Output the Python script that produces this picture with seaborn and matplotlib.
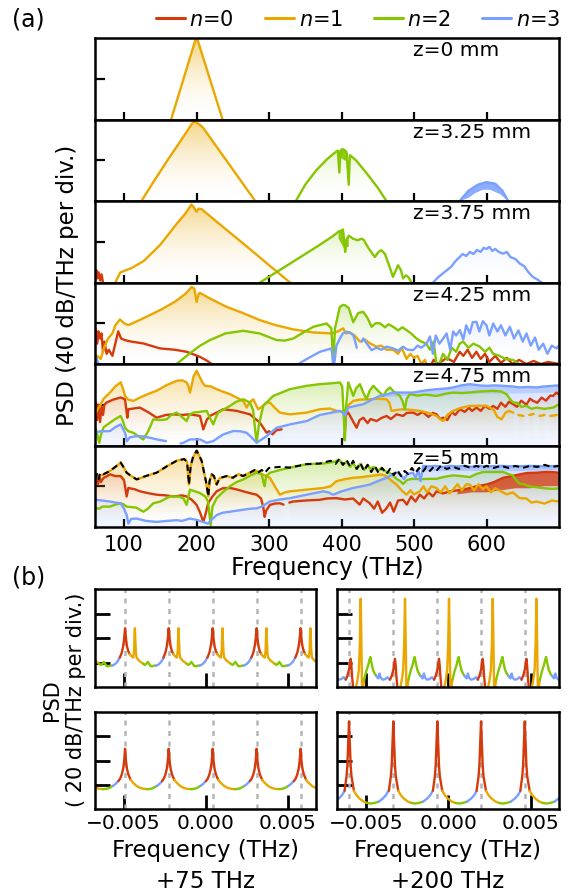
import numpy as np
import matplotlib
matplotlib.use("Agg")
import matplotlib.pyplot as plt
import seaborn as sns
from matplotlib.lines import Line2D
from matplotlib.colors import to_rgb

# ---------------------------------------------------------------- data (a)
z_labels = ["z=0 mm", "z=3.25 mm", "z=3.75 mm", "z=4.25 mm", "z=4.75 mm", "z=5 mm"]
mode_labels = ["$n$=0", "$n$=1", "$n$=2", "$n$=3"]
freq_ticks = [100, 200, 300, 400, 500, 600]

# z = 0 mm
z000_n1 = [(160, -95), (165, -80), (198, -3), (200, 0), (202, -3), (236, -80), (240, -90)]

# z = 3.25 mm
z325_n1 = [(118, -88), (124, -80), (140, -62), (160, -40), (180, -19), (192, -6), (196, -2), (199, -2.5),
           (202, -4), (206, -6), (209, -8), (215, -14), (230, -29), (250, -49), (265, -64), (280, -79), (285, -86)]
z325_n2 = [(330, -88), (337, -80), (350, -64), (365, -50), (380, -39), (390, -33), (395, -30.5), (397, -52),
           (398.5, -31), (401, -29), (404, -30), (407, -32), (410, -64), (411.5, -35), (420, -40), (435, -53),
           (450, -67), (462, -80), (468, -88)]
z325_n3 = [(558, -88), (563, -80), (575, -70), (588, -64), (600, -61.5), (612, -63), (622, -70), (630, -80), (634, -88)]

# z = 3.75 mm
z375_n0 = [(60, -72), (62, -68), (63, -76), (65, -70), (67, -78), (69, -72), (71, -80), (74, -82)]
z375_n1 = [(85, -88), (88, -80), (95, -70), (99, -69), (110, -66), (127, -59), (150, -43), (172, -23),
           (185, -12), (193, -3.5), (196, -6), (200, -10.5), (203, -7.5), (207, -8), (240, -27.5), (270, -45),
           (300, -63), (329, -80), (335, -86)]
z375_n2 = [(282, -84), (287.5, -80), (330, -61), (370, -43), (388, -34.5), (396, -30), (400, -29), (402, -28),
           (404, -40), (405, -50), (407, -38), (410, -34), (416, -37), (422, -38.5), (428, -37), (431, -38.5),
           (437, -46), (446, -55), (451, -50), (455, -48.3), (460, -52), (466, -64), (471, -74.5), (475, -68),
           (478, -63), (482, -68), (485, -76), (489, -73), (492, -74.5), (496.6, -80), (499, -85)]
z375_n3 = [(522, -86), (526.5, -80), (533, -75), (540, -71), (547, -67), (552, -64), (556, -60), (560, -57),
           (563, -55), (567, -52), (572, -54), (577, -50), (582, -52), (587, -48), (592, -50), (596, -46),
           (600, -47), (604, -45), (608, -49), (612, -47), (617, -50), (623, -51.7), (628, -50), (633, -55),
           (640, -57), (646, -61.5), (652, -64), (658, -70), (664, -74.6), (670, -77), (676, -80), (680, -86)]

# z = 4.25 mm
z425_n0 = [(60, -45), (61.6, -47), (63, -60), (65, -48), (67, -55), (69, -50), (71, -68), (73, -58), (76, -70),
           (79, -66), (84, -72), (88, -60), (92, -48), (96, -55), (101, -56.5), (110, -58), (126.6, -59.8),
           (149.6, -64.7), (170, -66), (186.4, -68), (204.8, -73), (215, -77), (221, -80), (226, -86), None,
           (520, -86), (527, -76), (533, -80), (545, -74), (555, -78), (563, -68), (568, -72), (574, -66),
           (580, -74), (586, -68), (592, -75), (598, -70), (604, -78), (612, -72), (620, -79), (628, -74),
           (636, -80), (645, -76), (655, -80), (665, -77), (675, -80), (685, -78), (700, -80)]
z425_n1 = [(60, -80), (63, -72), (68, -75), (72, -65), (78, -55), (84, -50), (88, -42), (94.5, -36.3),
           (100, -40), (106, -41.8), (115, -39), (130, -34), (150, -27), (170, -19), (185, -11), (193.3, -4.3),
           (197, -6), (200.2, -19), (203, -11), (204.8, -10.2), (218.6, -15.7), (241.5, -23.9), (264, -30),
           (287.5, -37), (310, -42), (333.4, -46), (361, -49), (386.3, -50), (395, -48), (402.4, -45),
           (406, -50), (411.6, -49), (418, -52), (425.4, -58), (432, -56), (440, -60), (448.4, -63), (455, -62),
           (462, -66), (471.3, -66), (478, -70), (483, -64), (489.7, -75), (495, -70), (500, -74), (505, -72),
           (510, -80), (515, -76), (520, -86)]
z425_n2 = [(165, -86), (172.6, -80), (190, -70), (205, -62), (218.6, -56.5), (240, -50), (264.5, -47.4),
           (287, -50), (310.4, -56.5), (322, -57), (333.4, -55), (350, -48), (361, -43.5), (379.4, -40.2),
           (386, -45), (388.5, -79), (391, -45), (397.7, -24), (402, -22), (404.7, -22.3), (410, -25),
           (416.2, -39), (423, -30), (430, -28.8), (436, -35), (441.5, -43.5), (447, -40), (453, -40), (460, -44),
           (465, -41), (471.3, -43.5), (478, -47), (484, -44), (489.7, -46.7), (496, -50), (503.5, -55),
           (510, -58), (517, -60), (522, -66), (527, -58), (531, -80), (535, -80), (540, -70), (546, -76),
           (552, -64), (558, -68), (563, -60), (567.8, -58), (575, -64), (582, -60), (590.8, -63), (598, -68),
           (604, -64), (609.2, -70), (618, -72), (626, -75), (636.8, -76), (645, -80), (650, -86)]
z425_n3 = [(60, -78), (62, -74), (65, -80), (68, -86), None,
           (336, -86), (342.6, -79), (355, -74), (370.2, -68), (380, -66), (386.3, -64.7), (388.5, -80),
           (390, -80), (393, -62), (397.7, -55), (402, -50), (406.9, -48.4), (411, -49), (416.2, -51.7),
           (419, -58), (421, -64), None,
           (428, -58), (430, -55), (435, -60), (441.5, -66.4), (448, -64), (455, -66), (462, -63),
           (471.3, -64.7), (478, -67), (485, -63), (491, -66), (498.9, -66.4), (505, -62), (510, -64),
           (517.3, -60), (522, -53), (526, -70), (530, -52), (535, -60), (540.3, -55), (545, -50), (550, -66),
           (554, -48), (558, -52), (563.3, -46.7), (568, -56), (572, -42), (577, -50), (581, -39),
           (586.2, -38.6), (590, -48), (595, -38), (600, -42), (604, -52), (609.2, -40.2), (615, -48),
           (620, -42), (626, -52), (632.2, -43.5), (638, -55), (644, -47), (650, -58), (655.2, -50), (661, -62),
           (667, -54), (672, -66), (678.2, -60), (684, -70), (690, -62), (696.6, -64.7), (700, -62)]

# z = 4.75 mm
z475_n0 = [(60, -38), (61.4, -37.8), (63, -55), (65, -40), (67, -57), (69, -42), (71, -50), (73, -40),
           (76.1, -37.8), (85, -35), (95.4, -32.9), (101.4, -34.6), (104.6, -52.7), (106, -44.4), (122, -42.8),
           (135, -48), (145, -52.7), (158, -50), (168, -49.4), (180, -50), (191, -49.4), (204.8, -51),
           (209.4, -64.2), (214, -55), (218.6, -51), (236.9, -44.4), (255.4, -46), (273.7, -49.4),
           (287.5, -57.6), (296.7, -67.5), (300, -66), (305, -69), (310, -65), (317.4, -64.2), None,
           (404, -74), (406, -50), (409.3, -47.7), (415, -55), (420.8, -62.6), (425, -55), (430, -52.7),
           (436, -58), (440, -54), (448.4, -56), (455, -53), (462.2, -51), (468, -54), (476, -49.4), (485, -51),
           (490, -48), (498.9, -47.7), (505, -50), (512, -47), (520, -52), (526, -48), (531.1, -49.4),
           (536, -54), (540.3, -52.7), (546, -55), (552, -47), (557, -50), (563.2, -44.4), (570, -47),
           (576, -43), (580, -46), (586.3, -42.8), (592, -46), (598, -41), (604, -44), (609.2, -41.1),
           (615, -44), (620, -38), (626, -42), (631, -37), (636.8, -39.5), (642, -42), (648, -36), (655, -40),
           (660, -34), (664.3, -36.2), (670, -38), (676, -33), (682, -36), (688, -31), (691.9, -31.3),
           (696.5, -28), (700, -30)]
z475_n1 = [(60, -50), (61.4, -47.7), (64, -44), (67, -41), (72, -34), (80.7, -28), (88, -22), (95.4, -18),
           (99, -25), (101.4, -31.3), (106, -35), (112.8, -36.2), (125, -32), (135, -29), (145, -26.3),
           (158, -21), (172.6, -16.5), (180, -16), (186.4, -18), (189, -22), (191, -28), (193, -22), (196, -12),
           (200.2, -6.6), (204, -12), (208, -18), (211.7, -21.4), (220, -22), (227.8, -24.7), (236, -27),
           (246.1, -29.6), (260, -34.6), (265, -37), (269.2, -42.8), (273, -38), (278.3, -34.6), (282, -40),
           (285.2, -44.4), (290, -42), (296, -38), (301.3, -37.8), (308, -43), (315, -47.7), (328.9, -49.4),
           (351.9, -47.7), (370.2, -44.4), (384, -43.7), (393.2, -46), (404, -47), (410, -40), (416.2, -36.2),
           (425, -35), (439.2, -34.6), (450, -34), (462.2, -34.6), (466, -38), (469, -46), (477, -45),
           (485.1, -44.4), (495, -45), (508.1, -46), (520, -48), (531.1, -51), (536, -54), (540.3, -56),
           (546, -50), (554, -46), (565, -43), (577, -41.1), (588, -41), (600, -41.1), (610, -45), (615, -52),
           (620.7, -54.3), (626, -48), (631, -46), (636.8, -47.7), None, (644, -50), (651, -51), None,
           (659, -50), (665, -49), None, (673, -51), (680, -50), None, (688, -51), (697, -50)]
z475_n2 = [(60, -62), (61.4, -64.2), (64, -72), (66, -77.3), (68, -70), (72, -62), (80.7, -57.6), (88, -54),
           (95.4, -51), (98, -55), (101.4, -62.6), (106, -66), (112.8, -67.5), (120, -71), (126.6, -74.1),
           (130, -70), (133.5, -65.8), (140.4, -54.3), (150, -55), (158.8, -54.3), (165, -50), (172.6, -47.7),
           (180, -52), (186.4, -56), (190, -50), (195.6, -47.7), (205, -47), (214, -46), (218, -52),
           (223.1, -59.3), (227, -52), (230, -47.7), (246.1, -41.1), (255, -37), (264.5, -34.6), (273.7, -37.8),
           (278, -45), (281, -65), (283, -77.3), (286, -60), (292, -41.1), (305.9, -31.3), (328.9, -24.7),
           (351.9, -21.4), (370.2, -19.8), (385, -19), (397.8, -18.1), (401, -22), (403, -50), (404.7, -75),
           (406, -45), (409.3, -18.1), (413, -25), (416.2, -31.3), (420, -24), (425.4, -19.8), (430, -28),
           (434.6, -34.6), (439, -26), (443.8, -21.4), (450, -26), (457.6, -31.3), (462, -26), (466.7, -23),
           (472, -27), (480.5, -31.3), (484, -36), (487.4, -44.4), (490, -34), (494.3, -29.6), (505, -31),
           (515, -30), (531.1, -31.3), (545, -29), (554, -28), (565, -28.5), (577, -28), (590, -27),
           (609.2, -26.3), (620, -27), (627.6, -29.6), (632, -34), (636.8, -37.8), (642, -38), (648, -42),
           (655.2, -41.1), (662, -44), (669, -42.8), (680, -44), (691.9, -42.8), (700, -39.5)]
z475_n3 = [(60, -66), (61.4, -67.5), (67, -66), (75, -66), (80.7, -65.8), (88, -62), (95.4, -59.3),
           (101.4, -67.5), (104, -75.7), (108, -72), (117.5, -70.8), (126, -71), (135.8, -72.4), (145, -74),
           (158, -75.7), None, (178, -78), (182, -77.3), (191, -74), (204.8, -74), (214, -77.3), (223, -75.7),
           (236.9, -69.1), (250.7, -65.8), (260, -66), (269.2, -67.5), (276, -72), (283, -77.3), (290, -74),
           (296.7, -70.8), (310.5, -62.6), (328.9, -59.3), (351.9, -56), (370.2, -50), (385, -48),
           (397.8, -46), (402, -48), (404.7, -51), (409.3, -42.8), (420, -41), (430, -39.5), (442, -35),
           (453, -31.3), (462, -30), (471.3, -28), (485, -28), (498.9, -28), (515, -26), (531.1, -24.7),
           (545, -24), (554, -23), (565, -21), (577, -19.8), (590, -21), (600, -21.4), (612, -21),
           (623, -21.4), (635, -22), (646, -23), (657, -22.5), (669, -23), (680, -22), (691.9, -21.4), (700, -21)]

# z = 5 mm
z500_n0 = [(60, -30), (61.4, -31.7), (64, -38), (66, -30), (68, -36), (71.5, -32), (80.7, -28.3), (88, -30),
           (95.4, -30), (100, -34), (103.7, -50), (106, -41.7), (115, -43), (122, -45), (135, -47),
           (145, -48.3), (158, -49), (168, -50), (180, -49), (186.4, -50), (193, -53), (200.2, -58.3),
           (205, -66), (209.4, -75), (213, -66), (216, -56.7), (222, -50), (227.8, -45), (236, -42),
           (246, -41.7), (255, -43), (264.5, -45), (275, -47), (283, -48.3), (289, -52), (292, -60), (294, -70),
           (296, -64), (301.3, -58.3), (308, -57), (315, -56.7), (320, -58), None, (328, -56), (333, -55),
           (350, -54), (370, -53.3), (380, -52), (393, -51.7), (405, -53), (416, -52), (425, -58), (430, -52),
           (439, -56.7), (445, -62), (450, -55), (456, -66), (462, -61.7), (467, -56), (472, -65), (478, -54),
           (485, -53.3), (490, -58), (496, -50), (502, -55), (508, -48.3), (514, -52), (520, -46), (526, -50),
           (531, -45), (540, -47), (550, -45), (560, -44), (570, -43), (577, -41.7), (586, -40), (600, -38.3),
           (610, -36), (623, -31.7), (635, -30), (646, -28.3), (656, -27), (669, -26.7), (680, -26), (690, -26),
           (700, -26.7)]
z500_n1 = [(60, -34), (61.4, -31.7), (66, -30), (71.5, -28.3), (80.7, -25), (88, -21), (95.4, -16.7),
           (100, -22), (103.7, -26.7), (110, -30), (117.5, -33.3), (130, -30), (145, -26.7), (160, -20),
           (172.6, -15), (183, -13.3), (187, -16), (189.6, -38.3), (192, -20), (195, -12), (200.2, -5),
           (203, -9), (207.1, -15), (210, -25), (213, -35), (216.3, -50), (218, -35), (220.9, -28.3), (224, -30),
           (227.8, -38.3), (232, -32), (241.5, -30), (250, -31.7), (258, -28), (264, -30), (273.7, -26.7),
           (283, -25), (290, -28), (301.3, -31.7), (308, -40), (315, -48.3), (322, -46), (328.9, -45),
           (351.9, -43.3), (374.8, -41.7), (385, -40), (393, -35), (405, -33), (416, -31.7), (428, -31),
           (439, -30), (450, -29), (455, -28.3), (462, -30), (468, -34), (476, -38.3), (483, -44),
           (489.7, -48.3), (495, -44), (500, -48), (508, -45), (513, -40), (518, -46), (524, -40), (531, -41.7),
           (537, -46), (543, -40), (549, -47), (554, -43.3), (560, -38), (566, -44), (572, -38), (577, -38.3),
           (583, -44), (589, -38), (595, -43), (600, -40), (606, -46), (612, -42), (620, -45), (628, -48),
           (636, -46), (646, -51.7), (655, -52), (662, -56), (669, -55), (680, -57), (690, -54), (700, -55)]
z500_n2 = [(60, -62), (61.4, -61.7), (66, -62), (70, -60), (80.7, -60), (88, -58), (95.4, -56.7), (100, -58),
           (103.7, -60), (117, -61), (126.6, -65), (133, -62), (140.4, -56.7), (150, -55), (163.4, -50),
           (175, -50), (182, -52), (186.4, -58.3), (191, -43.3), (198, -45), (204.8, -46.7), (212, -50),
           (216, -55), (219.5, -78.3), (222, -60), (227.8, -51.7), (236, -46), (246.1, -40), (255, -36),
           (264.5, -33.3), (273, -30), (283, -26.7), (290, -28), (293, -38), (294, -40), (296, -30),
           (301.3, -26.7), (315, -24), (328.9, -21.7), (351.9, -18.3), (374.8, -17.7), (390, -16), (397, -14),
           (402, -19), (407, -15.7), (412, -21), (416, -17), (421, -23), (426, -18), (431, -24), (436, -19),
           (439.2, -22.7), (445, -21), (450, -25), (455, -22), (462.2, -26), (469, -28), (476, -32.7), (481, -35),
           (485, -37.7), (490, -34), (497, -32.7), (508, -33), (521.9, -32.7), (531, -32.7), (540, -31),
           (554, -29.3), (565, -30), (577, -31), (586, -28), (595.4, -26), (610, -26), (623, -26), (630, -28),
           (636, -29.3), (641, -34), (646, -37.7), (652, -38), (658, -40), (669, -41), (680, -42), (691, -42.5),
           (700, -42)]
z500_n3 = [(60, -52), (61.4, -53.3), (70, -54), (80.7, -55), (88, -56), (95.4, -56.7), (100, -62),
           (103.7, -68.3), (106, -76.7), (110, -72), (117.5, -71.7), (130, -74), (145, -75), (160, -74),
           (172.6, -73.3), (180, -74), (191, -71.7), (200, -73), (209, -75), (216, -76.7), (222, -72),
           (227.8, -68.3), (236, -66), (246, -65), (255, -64), (264.5, -63), (275, -62), (283, -61.7), (290, -60),
           (301, -55), (315, -53), (328.9, -51.7), (351.9, -48.3), (374.8, -45), (382, -46), (388.5, -48.3),
           (400, -45), (416, -41.7), (428, -40), (439, -38.3), (450, -35), (462, -31.7), (469, -29),
           (476, -26.7), (481, -28), (486, -33), (491, -28), (498.9, -26.7), (502, -32), (506, -24), (509, -35),
           (512.7, -20), (520, -20.5), (530, -20), (540, -21), (550, -20), (560, -20.5), (570, -20), (580, -21),
           (590, -20), (600, -20.5), (620, -20), (640, -20.5), (660, -20), (680, -20.5), (700, -20)]
z500_total = [(60, -30), (61.4, -31.7), (63, -28), (65, -33), (67, -27), (71.5, -28.3), (80.7, -25),
              (88, -21), (95.4, -16.7), (100, -22), (103.7, -26.7), (110, -30), (117.5, -33.3), (130, -30),
              (145, -26.7), (160, -20), (172.6, -15), (183, -13.3), (187, -16), (189.6, -38.3), (192, -20),
              (195, -12), (200.2, -5), (203, -9), (207.1, -15), (210, -25), (213, -35), (216.3, -50), (218, -35),
              (220.9, -28.3), (224, -30), (227.8, -38.3), (232, -32), (241.5, -30), (250, -31.7), (258, -28),
              (264, -30), (273.7, -26.7), (280, -24), (284, -27), (290, -24), (294, -27), (300, -22), (315, -21),
              (328.9, -21.7), (351.9, -18.3), (370, -17.7), (385, -15), (392, -18), (397, -13), (402, -19),
              (407, -14), (412, -21), (416, -15), (421, -23), (426, -17), (431, -25), (436, -19), (441, -26),
              (446, -20), (451, -27), (456, -22), (462, -28), (467, -23), (472, -29), (477, -24), (482, -30),
              (487, -25), (492, -28), (497, -22), (502, -27), (507, -22), (512, -26), (517, -21), (522, -25),
              (527, -21), (532, -24), (537, -20), (545, -23), (554, -21), (562, -23), (570, -20), (578, -22),
              (586, -20), (594, -22), (600, -20), (610, -22), (620, -20), (630, -22), (640, -20), (650, -22),
              (660, -20), (670, -21), (680, -19), (690, -21), (700, -20)]

# densely oscillating regions: lower edge listed right-to-left
z325_n2_dense_low = [(411.5, -42), (404, -40), (396, -36)]
z325_n3_dense_low = [(630, -80), (618, -73), (605, -69), (595, -69), (585, -72), (575, -77), (563, -80)]
z375_n2_dense_low = [(410, -45), (403, -46), (396, -37)]
z475_n3_dense_low = [(700, -28), (640, -29), (600, -29), (560, -29), (530, -30), (500, -31), (470, -32), (450, -33)]
z500_n0_dense_low = [(700, -40), (680, -40), (660, -42), (640, -42), (620, -44), (600, -46), (580, -46), (560, -48)]
z500_n3_dense_low = [(700, -24), (650, -25), (600, -25), (560, -25), (512, -25)]

# ---------------------------------------------------------------- data (b)
b_xticks = [-0.005, 0.0, 0.005]
b_xticklabels = ["\u22120.005", "0.000", "0.005"]
b_yticks = [-60, -40, -20]
b_xlabels = ["Frequency (THz)\n+75 THz", "Frequency (THz)\n+200 THz"]
b_peaks_75 = [-0.007585, -0.004909, -0.002251, 0.000426, 0.003102, 0.005779, 0.008455]
b_peaks_200 = [-0.008710, -0.006040, -0.003345, -0.000669, 0.001989, 0.004647, 0.007320]
# one comb period: (offset from line in GHz, PSD in dB, dominant n for the following segment)
prof_top_75 = [(-0.32, -56, 0), (-0.2, -52, 0), (-0.12, -47, 0), (-0.06, -41, 0), (-0.02, -35, 0), (0.0, -32, 0),
               (0.02, -35, 0), (0.06, -41, 0), (0.12, -47, 0), (0.2, -51, 0), (0.28, -53, 1), (0.4, -55, 1),
               (0.5, -56, 1), (0.55, -50, 1), (0.58, -37, 1), (0.6, -32, 1), (0.62, -40, 1), (0.66, -52, 1),
               (0.7, -56, 1), (0.85, -58.5, 1), (1.0, -60, 1), (1.1, -61, 2), (1.2, -62, 2), (1.3, -61, 2),
               (1.38, -59.5, 2), (1.46, -61, 2), (1.56, -63, 2), (1.68, -63, 2), (1.8, -62.5, 2), (1.9, -62.5, 3),
               (2.05, -61.5, 3), (2.2, -59.5, 3), (2.35, -56, 0)]
prof_top_200 = [(-0.2, -74, 0), (-0.1, -71, 0), (0.0, -66, 0), (0.06, -61, 0), (0.1, -57, 0), (0.14, -62, 0),
                (0.18, -70, 0), (0.23, -78, 0), (0.26, -84, 1), (0.4, -82, 1), (0.52, -74, 1), (0.6, -66, 1),
                (0.66, -45, 1), (0.71, -8, 1), (0.74, -30, 1), (0.77, -60, 1), (0.8, -84, 1), (0.86, -80, 1),
                (0.92, -74, 2), (1.05, -67, 2), (1.17, -62, 2), (1.25, -57.5, 2), (1.3, -55.5, 2), (1.36, -60, 2),
                (1.46, -66, 2), (1.56, -69, 2), (1.66, -71, 3), (1.78, -73, 3), (1.86, -69, 3), (1.93, -72.5, 3),
                (2.05, -74, 3), (2.2, -73.5, 3), (2.35, -72, 3), (2.47, -74, 0)]
prof_bot_75 = [(-0.41, -57, 0), (-0.3, -55, 0), (-0.2, -51.5, 0), (-0.12, -47, 0), (-0.06, -41, 0),
               (-0.025, -35, 0), (0.0, -30.3, 0), (0.025, -35, 0), (0.06, -41, 0), (0.12, -47, 0), (0.2, -51.5, 0),
               (0.34, -56, 1), (0.5, -58.5, 1), (0.7, -61, 1), (0.9, -62.5, 1), (1.1, -63.3, 1), (1.32, -63.6, 2),
               (1.5, -63.5, 2), (1.7, -62.8, 2), (1.93, -61, 3), (2.1, -59.3, 3), (2.26, -57, 0)]
prof_bot_200 = [(-0.27, -65, 0), (-0.15, -53, 0), (-0.1, -44, 0), (-0.07, -33, 0), (-0.04, -22, 0),
                (-0.02, -15, 0), (0.0, -7.8, 0), (0.02, -15, 0), (0.04, -22, 0), (0.07, -33, 0), (0.1, -44, 0),
                (0.15, -53, 0), (0.3, -65, 1), (0.45, -68.5, 1), (0.65, -71.5, 1), (0.9, -74, 1), (1.1, -75, 2),
                (1.33, -75.5, 2), (1.55, -75, 2), (1.8, -74, 3), (2.05, -71.5, 3), (2.25, -68.5, 3), (2.4, -65, 0)]

# ---------------------------------------------------------------- style
sns.set_theme(style="white")
plt.rcParams.update({
    "font.family": ["DejaVu Sans"],
    "mathtext.fontset": "dejavusans",
    "axes.edgecolor": "black",
    "axes.linewidth": 1.7,
    "xtick.direction": "in",
    "ytick.direction": "in",
    "xtick.color": "black",
    "ytick.color": "black",
    "text.color": "black",
    "axes.labelcolor": "black",
    "axes.facecolor": "white",
})
COLORS = ["#D43A0C", "#E9A700", "#84C600", "#7AA0FF"]

W, H = 570, 895
fig = plt.figure(figsize=(W / 100, H / 100), dpi=100)


def rect(left, top, width, height):
    return [left / W, 1 - (top + height) / H, width / W, height / H]


def split(points):
    out, seg = [], []
    for p in points:
        if p is None:
            if len(seg) > 1:
                out.append(seg)
            seg = []
        else:
            seg.append(p)
    if len(seg) > 1:
        out.append(seg)
    return out


def grad_fill(ax, seg, color, amax=0.5, floor=0.0):
    f = [p[0] for p in seg]
    d = [p[1] for p in seg]
    poly = ax.fill_between(f, d, -80, facecolor="none", edgecolor="none")
    rgb = to_rgb(color)
    t = np.linspace(0, 1, 256)
    img = np.zeros((256, 1, 4))
    img[:, 0, :3] = rgb
    img[:, 0, 3] = floor + (amax - floor) * t ** 1.8
    im = ax.imshow(img, extent=[60, 700, -80, 0], aspect="auto", origin="lower",
                   interpolation="bilinear", zorder=1)
    for p in poly.get_paths()[:1]:
        im.set_clip_path(p, ax.transData)


def dense(ax, curve, low, color, alpha):
    f0, f1 = low[-1][0], low[0][0]
    pts = [p for p in curve if p is not None and f0 <= p[0] <= f1]
    xs = [p[0] for p in pts] + [p[0] for p in low]
    ys = [p[1] for p in pts] + [p[1] for p in low]
    ax.fill(xs, ys, color=color, alpha=alpha, lw=0, zorder=2)


rows = [
    {1: z000_n1},
    {1: z325_n1, 2: z325_n2, 3: z325_n3},
    {0: z375_n0, 1: z375_n1, 2: z375_n2, 3: z375_n3},
    {0: z425_n0, 1: z425_n1, 2: z425_n2, 3: z425_n3},
    {0: z475_n0, 1: z475_n1, 2: z475_n2, 3: z475_n3},
    {0: z500_n0, 1: z500_n1, 2: z500_n2, 3: z500_n3},
]
dense_regions = [
    (1, 2, z325_n2_dense_low, 0.9), (1, 3, z325_n3_dense_low, 0.85), (2, 2, z375_n2_dense_low, 0.9),
    (4, 3, z475_n3_dense_low, 0.3), (5, 0, z500_n0_dense_low, 0.75), (5, 3, z500_n3_dense_low, 0.4),
]

row_h = 81.5
axes_a = []
for i, series in enumerate(rows):
    ax = fig.add_axes(rect(95, 39 + row_h * i, 464, row_h))
    axes_a.append(ax)
    for m in [1, 2, 0, 3]:
        if m in series:
            for seg in split(series[m]):
                grad_fill(ax, seg, COLORS[m], amax=0.5 if m != 0 else 0.35,
                          floor=0.1 if (m == 3 and i >= 4) else 0.0)
    for (ri, m, low, al) in dense_regions:
        if ri == i:
            dense(ax, rows[i][m], low, COLORS[m], al)
    for m in sorted(series):
        for seg in split(series[m]):
            sns.lineplot(x=[p[0] for p in seg], y=[p[1] for p in seg], ax=ax, color=COLORS[m], lw=1.7,
                         sort=False, estimator=None, legend=False, zorder=3)
    if i == 5:
        for seg in split(z500_total):
            sns.lineplot(x=[p[0] for p in seg], y=[p[1] for p in seg], ax=ax, color="black", lw=1.5,
                         linestyle=(0, (3, 2)), sort=False, estimator=None, legend=False, zorder=4)
    ax.set_xlim(60, 700)
    ax.set_ylim(-80, 0)
    ax.set_xticks(freq_ticks)
    ax.set_yticks([-40])
    ax.tick_params(axis="x", bottom=True, top=False, length=6, width=1.6, labelsize=15, pad=5,
                   labelbottom=(i == 5))
    ax.tick_params(axis="y", left=True, right=False, length=7, width=1.6, labelleft=False)
    ax.set_xlabel("")
    ax.set_ylabel("")
    ax.text(0.685, 0.975, z_labels[i], transform=ax.transAxes, ha="left", va="top", fontsize=14.5, zorder=6)
    for s in ax.spines.values():
        s.set_linewidth(1.8)
        s.set_zorder(5)

axes_a[-1].set_xlabel("Frequency (THz)", fontsize=17, labelpad=1)
fig.text(68 / W, 1 - 285 / H, "PSD (40 dB/THz per div.)", rotation=90, ha="center", va="center", fontsize=16.5)
fig.text(12 / W, 1 - 20 / H, "(a)", ha="left", va="center", fontsize=17)
fig.text(12 / W, 1 - 577 / H, "(b)", ha="left", va="center", fontsize=17)

handles = [Line2D([0], [0], color=c, lw=2.2) for c in COLORS]
fig.legend(handles, mode_labels, loc="center right", bbox_to_anchor=(560 / W, 1 - 20 / H), ncol=4,
           frameon=False, fontsize=15, handlelength=1.4, handletextpad=0.2, columnspacing=1.5,
           borderaxespad=0, borderpad=0)

# ---------------------------------------------------------------- (b)
panels = [
    (rect(95, 590, 221, 98), b_peaks_75, prof_top_75, (-0.00674, 0.00672), False, None),
    (rect(337, 590, 222, 98), b_peaks_200, prof_top_200, (-0.00677, 0.00673), False, None),
    (rect(95, 713, 221, 97), b_peaks_75, prof_bot_75, (-0.00674, 0.00672), True, b_xlabels[0]),
    (rect(337, 713, 222, 97), b_peaks_200, prof_bot_200, (-0.00677, 0.00673), True, b_xlabels[1]),
]
for (r, peaks, prof, xl, bottom, xlabel) in panels:
    ax = fig.add_axes(r)
    for c in peaks:
        ax.axvline(c, color="#b5b5b5", lw=1.8, ls=(0, (2, 2.2)), zorder=1)
    for c in peaks:
        a = 0
        n = len(prof)
        while a < n - 1:
            m = prof[a][2]
            b = a
            while b + 1 < n - 1 and prof[b + 1][2] == m:
                b += 1
            pts = prof[a:b + 2]
            sns.lineplot(x=[c + p[0] * 1e-3 for p in pts], y=[p[1] for p in pts], ax=ax, color=COLORS[m],
                         lw=1.7, sort=False, estimator=None, legend=False, zorder=3)
            a = b + 1
    ax.set_xlim(*xl)
    ax.set_ylim(-80, 0)
    ax.set_xticks(b_xticks)
    ax.set_yticks(b_yticks)
    ax.set_xticklabels(b_xticklabels)
    ax.tick_params(axis="x", bottom=True, top=False, length=10, width=2, labelsize=14.5, pad=3,
                   labelbottom=bottom)
    ax.tick_params(axis="y", left=True, right=False, length=11, width=2, labelleft=False)
    ax.set_ylabel("")
    if xlabel:
        ax.set_xlabel(xlabel, fontsize=16.5, linespacing=1.45, labelpad=4)
    else:
        ax.set_xlabel("")
    for s in ax.spines.values():
        s.set_linewidth(1.8)
        s.set_zorder(5)

fig.text(64 / W, 1 - 700 / H, "PSD\n( 20 dB/THz per div.)", rotation=90, ha="center", va="center",
         fontsize=15, linespacing=1.25, multialignment="center")

fig.savefig("out.png", dpi=100)
